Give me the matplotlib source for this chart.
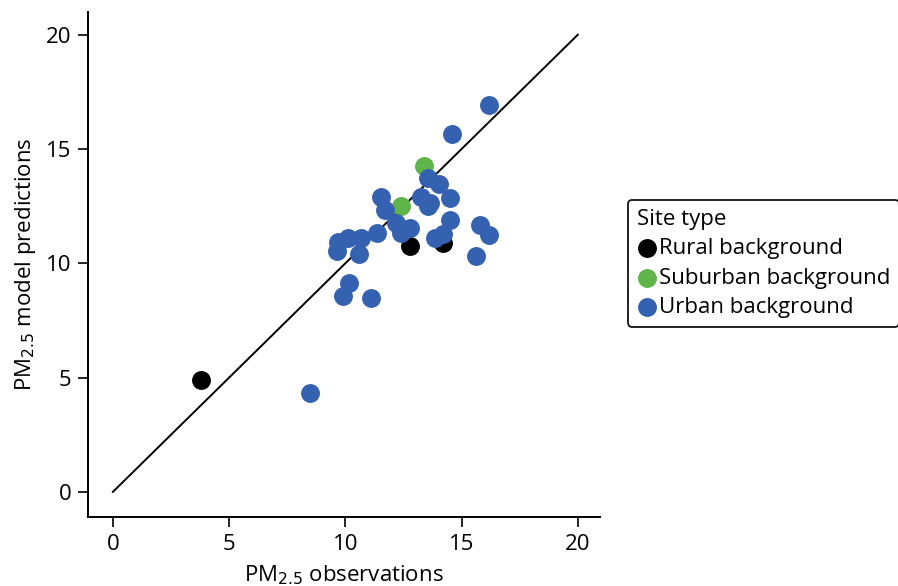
import matplotlib
matplotlib.use("Agg")
import matplotlib.pyplot as plt

# observed vs predicted PM2.5 by site type
rural_obs = [3.8, 12.8, 14.2]
rural_pred = [4.9, 10.74, 10.9]

suburban_obs = [13.4, 12.4]
suburban_pred = [14.27, 12.5]

urban_obs = [16.2, 14.6, 13.55, 14.05, 11.55, 11.7, 13.27, 13.63, 13.56, 14.5,
             14.52, 12.2, 12.8, 12.4, 15.78, 16.2, 14.2, 13.85, 11.37, 10.69,
             10.12, 9.69, 9.65, 10.6, 15.64, 10.17, 9.9, 11.1, 8.47]
urban_pred = [16.94, 15.67, 13.73, 13.47, 12.92, 12.34, 12.9, 12.63, 12.49, 12.85,
              11.9, 11.76, 11.54, 11.32, 11.68, 11.22, 11.29, 11.1, 11.32, 11.1,
              11.1, 10.95, 10.56, 10.42, 10.33, 9.13, 8.58, 8.48, 4.33]

ref_line = [0, 20]
ticks = [0, 5, 10, 15, 20]

plt.rcParams['font.family'] = ['Open Sans', 'DejaVu Sans']

fig = plt.figure(figsize=(8.98, 5.86), dpi=100)
ax = fig.add_axes([0.098, 0.1177, 0.57, 0.862])

ax.plot(ref_line, ref_line, color='black', linewidth=1.4, zorder=1)
ax.scatter(rural_obs, rural_pred, s=185, color='#000000', label='Rural background', zorder=2, linewidths=0)
ax.scatter(suburban_obs, suburban_pred, s=185, color='#5fb44a', label='Suburban background', zorder=2, linewidths=0)
ax.scatter(urban_obs, urban_pred, s=185, color='#3461b0', label='Urban background', zorder=2, linewidths=0)

ax.set_xlim(-1.07, 20.95)
ax.set_ylim(-1.1, 21.0)
ax.set_xticks(ticks)
ax.set_yticks(ticks)
ax.tick_params(labelsize=16, length=7, width=1.2, pad=5)
for s in ['top', 'right']:
    ax.spines[s].set_visible(False)
for s in ['left', 'bottom']:
    ax.spines[s].set_linewidth(1.4)

ax.set_xlabel('PM$_{2.5}$ observations', fontsize=16, labelpad=6)
ax.set_ylabel('PM$_{2.5}$ model predictions', fontsize=16, labelpad=6)

leg = ax.legend(title='Site type', loc='upper left', bbox_to_anchor=(0.699, 0.659),
                bbox_transform=fig.transFigure, borderaxespad=0, fontsize=16,
                title_fontsize=16, frameon=True, fancybox=True, edgecolor='black',
                handletextpad=0.1, handlelength=0.9, borderpad=0.4, labelspacing=0.38,
                markerscale=1.0)
leg._legend_box.align = 'left'
leg.get_frame().set_linewidth(1.2)
leg.get_frame().set_alpha(1)

fig.savefig('out.png', dpi=100)
